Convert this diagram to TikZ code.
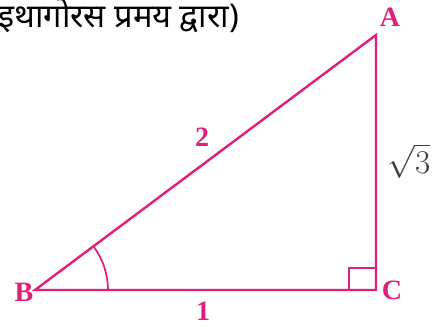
\documentclass[tikz,border=0pt]{standalone}
\usepackage{fontspec}
\setmainfont{Liberation Serif}
\newfontfamily\devfont[Script=Devanagari]{Noto Sans}
\usepackage{xcolor}
\usepackage{tikz}
\usetikzlibrary{positioning, calc}
\definecolor{pinkline}{RGB}{222,32,122}
\definecolor{darktext}{RGB}{60,60,70}
\tikzset{
  side/.style={draw=pinkline, line width=1.8pt, line join=miter},
  anglemark/.style={draw=pinkline, line width=1.3pt},
  vertex/.style={text=pinkline, font=\fontsize{21}{24}\selectfont\bfseries, inner sep=0pt},
  sidelabel/.style={text=pinkline, font=\fontsize{21}{24}\selectfont\bfseries, inner sep=0pt},
  rootlabel/.style={text=darktext, font=\fontsize{25}{30}\selectfont, inner sep=0pt},
  heading/.style={text=black, font=\devfont\fontsize{24.5}{28}\selectfont, inner sep=0pt, anchor=west}
}

\begin{document}
\begin{tikzpicture}[x=0.75pt, y=-0.75pt]
\useasboundingbox (0,0) rectangle (434,326);
% Heading
\node[heading] (head) at (-2,15) {इथागोरस प्रमय द्वारा)};

% Corners
\coordinate (B) at (35,290);
\coordinate (C) at (376,290);
\coordinate (A) at (376,35);

% Sides
\draw[side] (B) -- (C) -- (A) -- cycle;

% Angle at B and right angle at C
\draw[anglemark] ($(B)+(73,0)$) arc[start angle=0, end angle=-36.87, radius=73];
\draw[anglemark] ($(C)+(-27,0)$) -- ++(0,-22) -- ++(27,0);

% Labels
\node[vertex] (lA) at (390,17) {A};
\node[vertex] (lB) at (24,292) {B};
\node[vertex] (lC) at (392,290) {C};
\node[sidelabel] (l2) at (202,137) {2};
\node[sidelabel] (l1) at (203,311) {1};
\node[rootlabel] (l3) at (409,161) {$\sqrt{3}$};
\end{tikzpicture}
\end{document}
